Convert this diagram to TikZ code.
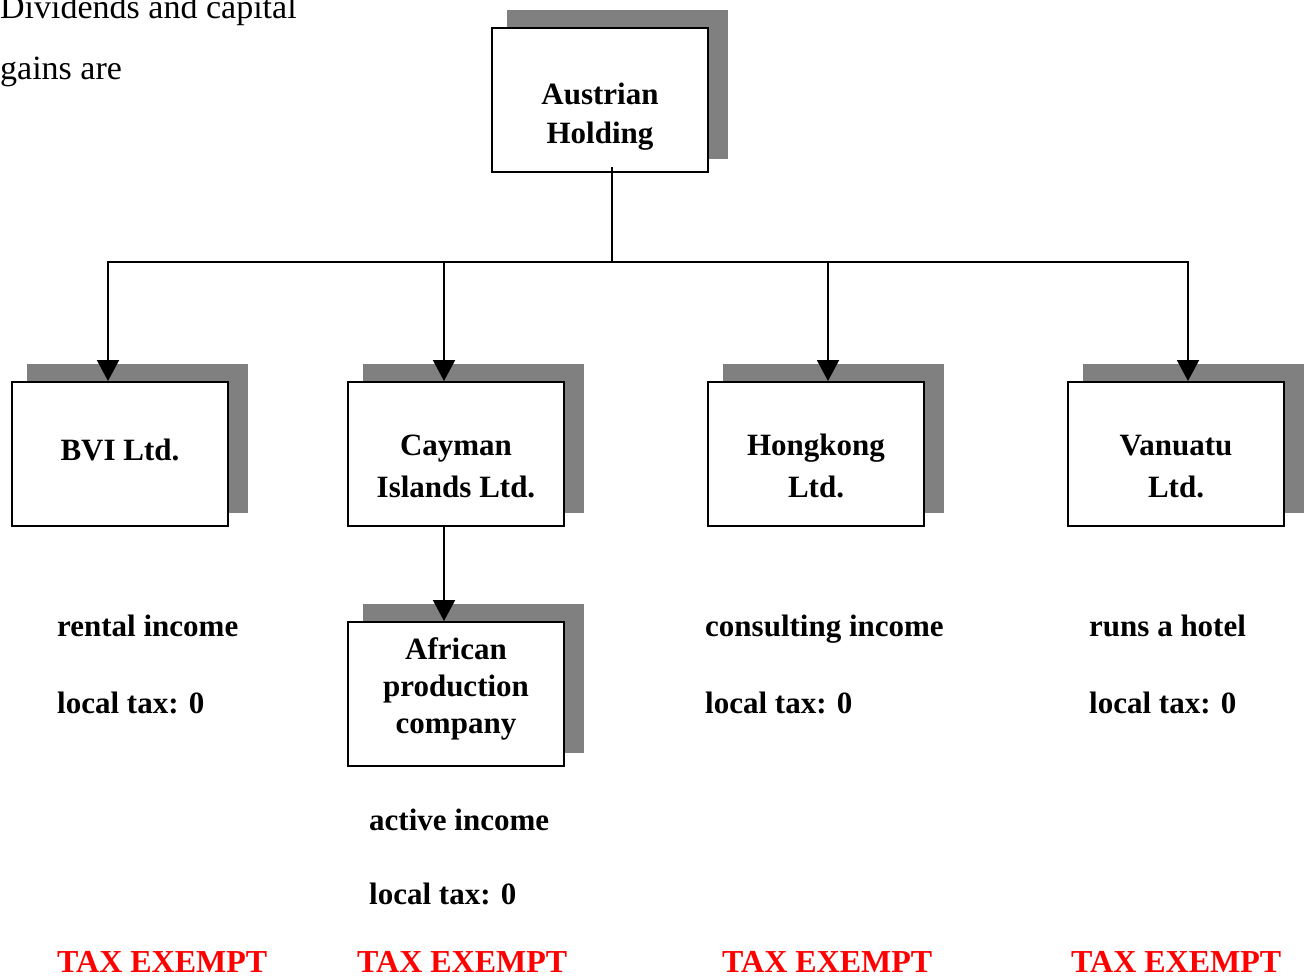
\documentclass[tikz,border=0pt]{standalone}
\usepackage{fontspec}
\setmainfont{Liberation Serif}
\usetikzlibrary{arrows.meta,backgrounds,calc}
\begin{document}
\begin{tikzpicture}[x=1pt,y=-1pt,
  company/.style={draw=black, line width=2pt, fill=white, rectangle,
    minimum width=216pt, minimum height=144pt, inner sep=0pt},
  boxtext/.style={font=\fontsize{31}{38}\selectfont\bfseries, align=center,
    inner sep=0pt, anchor=base},
  note/.style={font=\fontsize{31}{38}\selectfont\bfseries, inner sep=0pt,
    anchor=base west},
  plain/.style={font=\fontsize{34}{38}\selectfont, inner sep=0pt, anchor=base west},
  exempt/.style={note, font=\fontsize{32}{38}\selectfont\bfseries, text=red},
  link/.style={line width=2pt},
  arrowlink/.style={link, -{Triangle[length=21pt,width=22pt]}},
  shadowbox/.style={fill=black!50}]
\useasboundingbox (0,0) rectangle (1308,976);

% company boxes
\node[company] (aus) at (600,100) {};
\node[company] (bvi) at (120,454) {};
\node[company] (cay) at (456,454) {};
\node[company] (hk)  at (816,454) {};
\node[company] (van) at (1176,454) {};
\node[company] (afr) at (456,694) {};

% drop shadows behind the boxes
\begin{pgfonlayer}{background}
  \foreach \b in {aus,bvi,cay,hk,van,afr}
    \fill[shadowbox] ($(\b.north west)+(16,-17)$) rectangle ($(\b.south east)+(19,-14)$);
\end{pgfonlayer}

% box labels (base anchor sits on the last line)
\node[boxtext] (ausT) at (600,144) {Austrian\\[1pt]Holding};
\node[boxtext] (bviT) at (120,460) {BVI Ltd.};
\node[boxtext] (cayT) at (456,497) {Cayman\\[4pt]Islands Ltd.};
\node[boxtext] (hkT)  at (816,497) {Hongkong\\[4pt]Ltd.};
\node[boxtext] (vanT) at (1176,497) {Vanuatu\\[4pt]Ltd.};
\node[boxtext] (afrT) at (456,733) {African\\[-1pt]production\\[-1pt]company};

% ownership links
\coordinate (bus) at (612,262);
\draw[link] ($(aus.south)+(12,-6)$) -- (bus);
\draw[arrowlink] (bus) -| ($(bvi.north)+(-12,0)$);
\draw[arrowlink] (bus) -| ($(cay.north)+(-12,0)$);
\draw[arrowlink] (bus) -| ($(hk.north)+(12,0)$);
\draw[arrowlink] (bus) -| ($(van.north)+(12,0)$);
\draw[arrowlink] ($(cay.south)+(-12,0)$) -- ($(afr.north)+(-12,0)$);

% heading text
\node[plain] (div1) at (0,19) {Dividends and capital};
\node[plain] (div2) at (0,80) {gains are};

% income notes
\node[note] (bviI) at (57,636) {rental income};
\node[note] (bviL) at (57,713) {local tax: 0};
\node[note] (hkI)  at (705,636) {consulting income};
\node[note] (hkL)  at (705,713) {local tax: 0};
\node[note] (vanI) at (1089,636) {runs a hotel};
\node[note] (vanL) at (1089,713) {local tax: 0};
\node[note] (afrI) at (369,830) {active income};
\node[note] (afrL) at (369,904) {local tax: 0};

% result row
\node[exempt] (ex1) at (57,972) {TAX EXEMPT};
\node[exempt] (ex2) at (357,972) {TAX EXEMPT};
\node[exempt] (ex3) at (722,972) {TAX EXEMPT};
\node[exempt] (ex4) at (1071,972) {TAX EXEMPT};
\end{tikzpicture}
\end{document}
